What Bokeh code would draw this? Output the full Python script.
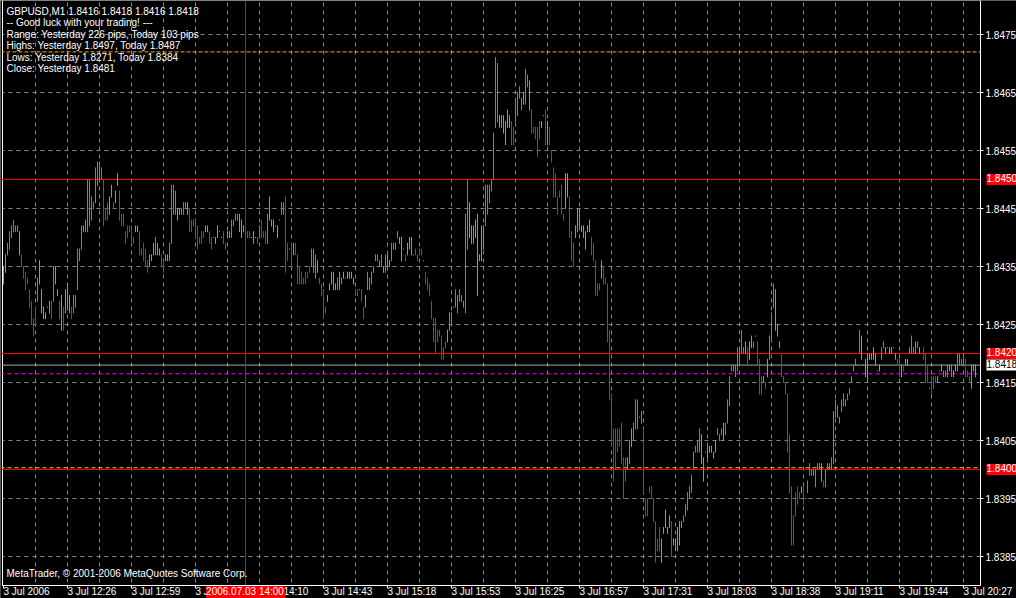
from bokeh.plotting import figure
from bokeh.models import (ColumnDataSource, Range1d, FixedTicker, PrintfTickFormatter,
                          Span, Label, BoxAnnotation)
from bokeh.embed import file_html
from bokeh.resources import INLINE

# ---- data: GBPUSD M1 bars, prices stored as pips above BASE ----
BASE = 1.8300
PIP = 0.0001

high_pips = [
    135, 137, 139, 141, 142, 143, 142, 142, 141, 137,
    135, 134, 133, 131, 129, 126, 128, 133, 136, 131,
    128, 127, 128, 129, 129, 135, 135, 131, 129, 130,
    128, 131, 132, 130, 128, 130, 130, 138, 138, 142,
    142, 143, 150, 150, 147, 146, 152, 153, 153, 152,
    150, 145, 146, 147, 149, 146, 148, 151, 148, 144,
    144, 141, 142, 142, 142, 140, 142, 142, 141, 138,
    139, 138, 136, 137, 137, 139, 140, 139, 138, 137,
    136, 137, 137, 139, 149, 149, 148, 145, 145, 145,
    146, 146, 146, 145, 143, 143, 143, 142, 140, 141,
    141, 142, 142, 141, 140, 140, 140, 142, 141, 140,
    141, 139, 141, 141, 143, 143, 144, 144, 144, 143,
    142, 141, 141, 141, 140, 141, 140, 140, 142, 143,
    141, 141, 144, 147, 143, 143, 142, 142, 143, 146,
    146, 147, 139, 138, 139, 139, 139, 137, 135, 134,
    133, 134, 134, 135, 138, 138, 137, 136, 133, 132,
    131, 128, 130, 132, 134, 134, 132, 133, 134, 133,
    134, 133, 134, 134, 134, 133, 131, 131, 131, 131,
    128, 130, 134, 133, 134, 135, 137, 137, 136, 137,
    135, 137, 137, 136, 139, 139, 139, 141, 140, 140,
    138, 137, 139, 140, 140, 137, 138, 137, 138, 138,
    136, 134, 133, 132, 129, 126, 126, 124, 124, 123,
    121, 122, 124, 127, 127, 128, 131, 130, 131, 130,
    129, 144, 150, 146, 142, 142, 143, 144, 137, 142,
    142, 149, 149, 149, 150, 158, 171, 170, 161, 161,
    161, 160, 162, 161, 160, 159, 164, 165, 166, 164,
    165, 169, 168, 167, 162, 159, 159, 159, 160, 160,
    161, 162, 160, 159, 155, 152, 151, 147, 148, 149,
    144, 151, 151, 147, 141, 139, 142, 145, 145, 142,
    142, 141, 142, 143, 140, 139, 136, 132, 132, 136,
    135, 133, 132, 124, 113, 107, 107, 107, 107, 108,
    102, 102, 102, 105, 107, 108, 112, 112, 109, 110,
    107, 95, 95, 97, 97, 95, 91, 88, 90, 88,
    90, 93, 90, 92, 91, 88, 88, 90, 91, 91,
    92, 94, 96, 97, 99, 103, 104, 105, 107, 106,
    102, 103, 104, 104, 104, 103, 105, 107, 106, 107,
    108, 108, 112, 116, 118, 118, 118, 121, 121, 124,
    121, 122, 121, 122, 123, 122, 123, 122, 119, 116,
    116, 115, 119, 123, 127, 132, 131, 125, 122, 120,
    116, 115, 113, 106, 97, 92, 96, 97, 96, 97,
    97, 95, 98, 101, 100, 100, 100, 101, 101, 101,
    98, 100, 101, 101, 102, 110, 112, 111, 109, 112,
    113, 112, 113, 114, 116, 118, 119, 118, 124, 123,
    118, 119, 120, 120, 120, 121, 120, 117, 118, 121,
    122, 121, 121, 121, 121, 121, 120, 119, 119, 118,
    118, 119, 119, 121, 123, 121, 122, 122, 121, 120,
    121, 120, 118, 114, 116, 116, 116, 116, 117, 118,
    117, 117, 118, 118, 118, 117, 118, 120, 120, 119,
    120, 119, 117, 116, 118, 118, 118,
]

low_pips = [
    132, 134, 137, 138, 140, 141, 141, 141, 137, 135,
    133, 131, 132, 128, 125, 123, 125, 129, 132, 127,
    126, 126, 128, 127, 126, 129, 132, 130, 126, 124,
    124, 127, 128, 127, 126, 127, 128, 131, 136, 138,
    141, 141, 141, 142, 143, 145, 146, 149, 150, 150,
    142, 143, 143, 144, 147, 145, 146, 149, 143, 142,
    142, 139, 140, 141, 139, 139, 141, 141, 137, 137,
    136, 135, 134, 135, 136, 137, 137, 137, 137, 135,
    134, 136, 136, 136, 139, 144, 144, 143, 144, 144,
    144, 145, 144, 141, 141, 142, 140, 138, 139, 139,
    140, 141, 141, 139, 138, 140, 139, 140, 141, 140,
    139, 138, 140, 140, 140, 142, 143, 143, 141, 140,
    141, 140, 140, 140, 140, 139, 140, 139, 140, 140,
    140, 139, 139, 143, 142, 141, 142, 140, 143, 144,
    144, 134, 136, 138, 135, 137, 137, 132, 132, 132,
    132, 132, 133, 134, 135, 134, 133, 134, 132, 130,
    126, 127, 129, 131, 132, 131, 131, 131, 131, 132,
    133, 133, 133, 133, 133, 132, 130, 130, 131, 129,
    126, 128, 131, 131, 132, 134, 136, 136, 135, 135,
    134, 134, 135, 135, 136, 138, 138, 140, 139, 136,
    138, 136, 137, 138, 137, 137, 137, 136, 137, 137,
    136, 132, 131, 130, 126, 122, 120, 122, 123, 119,
    119, 121, 122, 124, 125, 128, 128, 127, 129, 129,
    128, 127, 138, 140, 139, 139, 140, 130, 136, 136,
    138, 142, 144, 146, 148, 150, 159, 160, 159, 159,
    158, 156, 159, 159, 156, 156, 160, 161, 164, 162,
    163, 163, 166, 162, 158, 158, 157, 154, 157, 159,
    161, 156, 156, 156, 153, 147, 147, 144, 147, 144,
    143, 145, 147, 140, 136, 135, 140, 141, 142, 141,
    140, 138, 141, 141, 137, 136, 130, 130, 131, 133,
    132, 132, 122, 112, 104, 98, 100, 103, 104, 101,
    95, 98, 100, 101, 104, 105, 107, 107, 109, 108,
    96, 92, 92, 96, 95, 91, 84, 86, 86, 84,
    89, 90, 89, 90, 85, 87, 86, 86, 87, 90,
    91, 92, 93, 95, 96, 100, 103, 103, 103, 101,
    98, 103, 102, 103, 103, 102, 103, 106, 105, 106,
    105, 106, 108, 111, 117, 117, 116, 117, 118, 120,
    120, 120, 118, 119, 121, 121, 123, 118, 113, 113,
    115, 114, 116, 119, 122, 128, 124, 123, 121, 116,
    115, 113, 103, 96, 87, 87, 92, 94, 95, 96,
    94, 95, 96, 99, 99, 99, 97, 100, 100, 98,
    97, 97, 100, 100, 100, 101, 109, 109, 108, 110,
    111, 111, 112, 113, 115, 117, 118, 118, 120, 119,
    118, 116, 115, 119, 119, 119, 118, 117, 117, 119,
    121, 120, 121, 120, 120, 121, 119, 118, 116, 116,
    117, 118, 118, 120, 120, 120, 120, 121, 120, 120,
    119, 115, 115, 114, 113, 114, 115, 115, 117, 117,
    116, 116, 116, 117, 116, 116, 117, 117, 118, 118,
    118, 116, 116, 115, 114, 117, 116,
]

# bar colour codes: b = rising trend, g = flat, r = falling
bar_trend = (
    "ggbbbbbbgr" "rrrrrrrbgg" "ggggrbggrg" "rgggrbbbbb" "bbbbbbbbbb"
    "rrrggrggrr" "rrrrrrggrr" "rrrgggbggr" "rggbbbbggb" "bbgrrrrrrr"
    "rggrrggggg" "rrggbbbbgg" "grrrgggrbr" "rrbggggggb" "brrgrgrrrr"
    "rrrrbbbgrr" "rrgggggbgb" "ggggggrrgr" "rgbbbbbbbb" "gbggbbbbgg"
    "grggggrrrr" "grrrrrrrrr" "rrgbbgbbbb" "bbbggggggg" "gbbbbbbbgg"
    "ggggrrbbbb" "gbbgrrrrrg" "grgrrrrrrr" "rggrrrgggg" "ggggrrrrrg"
    "rrrrrrrrrr" "rrgbgbbbgb" "rrrrrrrrrg" "ggggrggggg" "bbbbbbbbbg"
    "gggggggbbb" "gbbbbbbbbb" "bgrggbgrrr" "grgbbbgggr" "rrrrrrrrrg"
    "rgbbbbbbbg" "rbbbbbbbbb" "bbbbbbbgbg" "gggggggggb" "bggggggrrg"
    "rggbbbbbgg" "rrrgrrrggg" "bbbgbggbbb" "brrrggg"
)

time_ticks = list(range(0, 481, 32))
time_labels = ["3 Jul 2006", "3 Jul 12:26", "3 Jul 12:59", "3 Jul 13:34",
               "3 Jul 14:10", "3 Jul 14:43", "3 Jul 15:18", "3 Jul 15:53",
               "3 Jul 16:25", "3 Jul 16:57", "3 Jul 17:31", "3 Jul 18:03",
               "3 Jul 18:38", "3 Jul 19:11", "3 Jul 19:44", "3 Jul 20:27"]
price_tick_pips = list(range(85, 176, 10))

header_lines = [
    "GBPUSD,M1  1.8416 1.8418 1.8416 1.8418",
    "-- Good luck with your trading! ---",
    "Range: Yesterday 226 pips, Today 103 pips",
    "Highs: Yesterday 1.8497, Today 1.8487",
    "Lows:  Yesterday 1.8271, Today 1.8384",
    "Close: Yesterday 1.8481",
]
copyright_text = "MetaTrader, \u00a9 2001-2006 MetaQuotes Software Corp."

red_levels = [1.8450, 1.8420, 1.8400]
bid_price = 1.8418
orange_level = 1.8472
magenta_level = 1.84165
yellow_level = 1.84003
cursor_bar = 121
cursor_label = "2006.07.03 14:00"

# ---- geometry: the frame fills the page; 2 px per bar, 5.8 px per pip ----
W, H = 1016, 598
PX_BAR, PX_PIP = 2.0, 5.8
X0_PX = 3.0                 # first bar
Y175_PX = 34.0              # 1.8475 grid line
CHART_RIGHT_PX, CHART_BOTTOM_PX, CHART_LEFT_PX = 980.0, 585.0, 2.0


def x_at(px):
    return (px - X0_PX) / PX_BAR


def y_at(py):
    return BASE + (175 - (py - Y175_PX) / PX_PIP) * PIP


FONT = "Liberation Sans"
FS = "10px"
TREND_COLORS = {"b": "#3f8fe2", "g": "#33dd22", "r": "#d21e42"}
GRID = "#778899"

src = ColumnDataSource(dict(
    x=list(range(len(high_pips))),
    high=[BASE + h * PIP for h in high_pips],
    low=[BASE + l * PIP for l in low_pips],
    color=[TREND_COLORS[c] for c in bar_trend],
))

p = figure(width=W, height=H, output_backend="svg", toolbar_location=None,
           x_range=Range1d(x_at(0), x_at(W)), y_range=Range1d(y_at(H), y_at(0)),
           y_axis_location="right", background_fill_color="black",
           border_fill_color="black", outline_line_color=None,
           min_border_left=0, min_border_right=0, min_border_top=0,
           min_border_bottom=0)

# grid
p.xgrid.ticker = FixedTicker(ticks=list(range(16, 481, 16)))
p.ygrid.ticker = FixedTicker(ticks=[BASE + t * PIP for t in price_tick_pips])
for g in (p.xgrid, p.ygrid):
    g.grid_line_color = GRID
    g.grid_line_dash = "4 4"
    g.grid_line_width = 1

# level lines (under the margin masks)
p.add_layout(Span(location=x_at(CHART_LEFT_PX), dimension="height", line_color="white",
                  line_width=1, level="underlay"))
p.add_layout(Span(location=orange_level, dimension="width", line_color="#ffa500",
                  line_dash="4 2", line_width=1, level="underlay"))
for lv in red_levels:
    p.add_layout(Span(location=lv, dimension="width", line_color="#ff0000", line_width=1,
                      level="underlay"))
p.add_layout(Span(location=bid_price, dimension="width", line_color="#a0a8b4", line_width=1,
                  level="underlay"))
p.add_layout(Span(location=magenta_level, dimension="width", line_color="#ff00ff",
                  line_dash="4 3", line_width=1, level="underlay"))
p.add_layout(Span(location=yellow_level, dimension="width", line_color="#ffd700",
                  line_dash="4 3", line_width=1, level="underlay"))
p.add_layout(Span(location=cursor_bar, dimension="height", line_color="#ff0000", line_width=1,
                  level="underlay"))

# black margins around the chart area (price scale, time scale, left edge)
for box in (dict(left=x_at(CHART_RIGHT_PX + 0.5)), dict(top=y_at(CHART_BOTTOM_PX + 0.5)),
            dict(right=x_at(CHART_LEFT_PX - 0.5))):
    p.add_layout(BoxAnnotation(fill_color="black", fill_alpha=1.0, line_color=None,
                               level="underlay", **box))

# price axis, drawn on the right edge of the chart area
ya = p.yaxis[0]
ya.fixed_location = x_at(CHART_RIGHT_PX)
ya.bounds = (y_at(CHART_BOTTOM_PX), y_at(0))
ya.ticker = FixedTicker(ticks=[BASE + t * PIP for t in price_tick_pips])
ya.formatter = PrintfTickFormatter(format="%.4f")
ya.major_label_standoff = 2
# time axis, drawn on the bottom edge; labels start at their tick
xa = p.xaxis[0]
xa.fixed_location = y_at(CHART_BOTTOM_PX)
xa.bounds = (x_at(CHART_LEFT_PX), x_at(CHART_RIGHT_PX))
xa.ticker = FixedTicker(ticks=time_ticks)
xa.major_label_overrides = {t: lab for t, lab in zip(time_ticks, time_labels)}
xa.major_label_orientation = -1e-4
xa.major_label_standoff = 3
for ax in (xa, ya):
    ax.axis_line_color = "white"
    ax.major_tick_line_color = "white"
    ax.minor_tick_line_color = None
    ax.major_tick_in = 0
    ax.major_tick_out = 3
    ax.major_label_text_color = "white"
    ax.major_label_text_font = FONT
    ax.major_label_text_font_size = FS

# bars
p.segment(x0="x", y0="low", x1="x", y1="high", line_color="color", line_width=1,
          line_cap="square", source=src)

# header text block
for k, line in enumerate(header_lines):
    p.add_layout(Label(x=6, y=H - (10.5 + 11.5 * k), x_units="screen", y_units="screen",
                       text=line, text_color="white", text_font=FONT, text_font_size=FS,
                       text_baseline="middle"))
p.add_layout(Label(x=6, y=H - 572.5, x_units="screen", y_units="screen",
                   text=copyright_text, text_color="white", text_font=FONT,
                   text_font_size=FS, text_baseline="middle"))

# price tags on the price scale
for lv in red_levels:
    p.add_layout(Label(x=986, y=lv, x_units="screen", text="%.4f" % lv,
                       text_color="white", text_font=FONT, text_font_size=FS,
                       text_baseline="middle", text_align="left",
                       background_fill_color="#ff0000", padding=(0, 3, 0, 3)))
p.add_layout(Label(x=986, y=bid_price, x_units="screen", text="%.4f" % bid_price,
                   text_color="black", text_font=FONT, text_font_size=FS,
                   text_baseline="middle", text_align="left",
                   background_fill_color="white", padding=(0, 3, 0, 3)))

# cursor time tag on the time scale
p.add_layout(Label(x=cursor_bar, y=H - 591.5, y_units="screen", text=cursor_label,
                   text_color="white", text_font=FONT, text_font_size=FS,
                   text_align="center", text_baseline="middle",
                   background_fill_color="#ff0000", padding=(0, 1, 0, 1)))

open("out.html", "w").write(file_html(p, INLINE))
